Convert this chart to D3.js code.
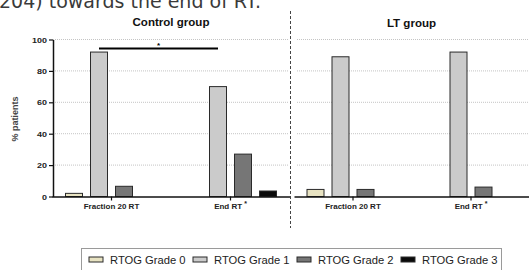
<!DOCTYPE html>
<html>
<head>
<meta charset="utf-8">
<script src="https://cdn.jsdelivr.net/npm/d3@7"></script>
<style>
  body { margin: 0; background: #fff; }
  svg { display: block; }
</style>
</head>
<body>
<div id="chart"></div>
<script>
const categories = ["Fraction 20 RT", "End RT"];
const grades = ["RTOG Grade 0", "RTOG Grade 1", "RTOG Grade 2", "RTOG Grade 3"];
const gradeColors = ["#e8e3c2", "#cbcbcb", "#767676", "#0a0a0a"];
const controlValues = [[2, 92, 6.5, 0], [0, 70, 27, 3.5]];
const ltValues = [[4.5, 89, 4.5, 0], [0, 92, 6, 0]];
const yTicks = [0, 20, 40, 60, 80, 100];
const gridTicks = [20, 40, 60, 80, 100];

function drawChart() {
    const W = 529, H = 270;
    const svg = d3.select("#chart").append("svg")
        .attr("width", W).attr("height", H)
        .style("font-family", "'Liberation Sans', Arial, sans-serif");

    // widen text a bit, the source picture is stretched sideways
    function stretch(sel, k) {
        sel.each(function() {
            const len = this.getComputedTextLength();
            d3.select(this).attr("textLength", len * k).attr("lengthAdjust", "spacingAndGlyphs");
        });
    }

    // cut-off line of body text above the figure
    svg.append("text")
        .attr("x", -1).attr("y", 7.5)
        .style("font-family", "'DejaVu Sans', sans-serif")
        .style("font-size", "19px")
        .attr("fill", "#3a3a3a")
        .text("204) towards the end of RT.");

    const y = d3.scaleLinear().domain([0, 100]).range([196.5, 39.5]);

    const panels = [
        {title: "Control group", values: controlValues, range: [52, 290], grid: [53, 288], axis: true, sig: true},
        {title: "LT group", values: ltValues, range: [294, 530], grid: [297, 529], axis: false, sig: false}
    ];

    const inner = d3.scaleBand().domain(grades).range([-46, 46]).paddingInner(0.32).paddingOuter(0);

    panels.forEach(p => {
        const x = d3.scaleBand().domain(categories).range(p.range);
        const g = svg.append("g");

        // dotted grid
        g.selectAll("line.grid").data(gridTicks).join("line")
            .attr("class", "grid")
            .attr("x1", p.grid[0]).attr("x2", p.grid[1])
            .attr("y1", d => y(d)).attr("y2", d => y(d))
            .attr("stroke", "#b5b5b5").attr("stroke-width", 0.8)
            .attr("stroke-dasharray", "1,1");

        // bars
        categories.forEach((c, ci) => {
            g.selectAll(null).data(grades.map((gr, gi) => ({gr, gi, v: p.values[ci][gi]})).filter(d => d.v > 0))
                .join("rect")
                .attr("x", d => x(c) + x.bandwidth() / 2 + inner(d.gr))
                .attr("y", d => y(d.v))
                .attr("width", inner.bandwidth())
                .attr("height", d => y(0) - y(d.v))
                .attr("fill", d => gradeColors[d.gi])
                .attr("stroke", "#2a2a2a").attr("stroke-width", 1);
        });

        // x axis
        const xAxis = g.append("g")
            .attr("transform", `translate(0,${y(0)})`)
            .call(d3.axisBottom(x).tickSize(4).tickSizeOuter(0).tickFormat(""));
        xAxis.select(".domain").attr("stroke", "#111").attr("stroke-width", 1.5);
        xAxis.selectAll(".tick line").attr("stroke", "#111").attr("stroke-width", 1.2);

        const labels = g.selectAll("text.xlab").data(categories).join("text")
            .attr("class", "xlab")
            .attr("x", d => x(d) + x.bandwidth() / 2)
            .attr("y", 208.5)
            .attr("text-anchor", "middle")
            .style("font-size", "8px").style("font-weight", "bold")
            .attr("fill", "#222");
        labels.append("tspan").text(d => d);
        labels.filter(d => d === "End RT").append("tspan")
            .attr("dx", 2).attr("dy", -3).style("font-size", "7px").text("*");

        if (p.axis) {
            const yAxis = g.append("g")
                .attr("transform", `translate(${p.range[0] + 1},0)`)
                .call(d3.axisLeft(y).tickValues(yTicks).tickSize(4).tickSizeOuter(0).tickPadding(2));
            yAxis.select(".domain").attr("stroke", "#111").attr("stroke-width", 1.5);
            yAxis.selectAll(".tick line").attr("stroke", "#111").attr("stroke-width", 1.2);
            yAxis.selectAll(".tick text")
                .style("font-size", "8px").style("font-weight", "bold")
                .style("font-family", "'Liberation Sans', Arial, sans-serif")
                .attr("fill", "#222")
                .call(stretch, 1.12);

            svg.append("text")
                .attr("transform", `translate(18,${(y(0) + y(100)) / 2 + 1}) rotate(-90)`)
                .attr("text-anchor", "middle")
                .style("font-size", "9px").style("font-weight", "bold")
                .attr("fill", "#444")
                .text("% patients");
        }

        // significance bar between grade 1 bars
        if (p.sig) {
            const cx = c => x(c) + x.bandwidth() / 2 + inner(grades[1]) + inner.bandwidth() / 2;
            g.append("line")
                .attr("x1", cx(categories[0])).attr("x2", cx(categories[1]))
                .attr("y1", 48.5).attr("y2", 48.5)
                .attr("stroke", "#000").attr("stroke-width", 2);
            g.append("text")
                .attr("x", (cx(categories[0]) + cx(categories[1])) / 2)
                .attr("y", 47.5)
                .attr("text-anchor", "middle")
                .style("font-size", "8px").style("font-weight", "bold")
                .text("*");
        }

        g.append("text")
            .attr("x", (p.range[0] + p.range[1]) / 2 + (p.axis ? 0 : -0.5))
            .attr("y", p.axis ? 26 : 27)
            .attr("text-anchor", "middle")
            .style("font-size", "10.5px").style("font-weight", "bold")
            .attr("fill", "#111")
            .text(p.title)
            .call(stretch, 1.1);
    });

    // dashed divider between the panels
    svg.append("line")
        .attr("x1", 290.5).attr("x2", 290.5)
        .attr("y1", 11).attr("y2", 228)
        .attr("stroke", "#444").attr("stroke-width", 1)
        .attr("stroke-dasharray", "3,2");

    // legend
    const lg = svg.append("g");
    lg.append("rect")
        .attr("x", 81.5).attr("y", 248.5)
        .attr("width", 420).attr("height", 40)
        .attr("fill", "none").attr("stroke", "#9a9a9a");
    const items = lg.selectAll("g.item").data(grades).join("g")
        .attr("class", "item")
        .attr("transform", (d, i) => `translate(${89 + i * 104},0)`);
    items.append("rect")
        .attr("x", 0).attr("y", 257)
        .attr("width", 14).attr("height", 5)
        .attr("fill", (d, i) => gradeColors[i])
        .attr("stroke", "#2a2a2a").attr("stroke-width", 1);
    items.append("text")
        .attr("x", 21).attr("y", 263.5)
        .style("font-size", "10px")
        .attr("fill", "#222")
        .text(d => d)
        .call(stretch, 1.12);

    svg.node();
}

drawChart();
</script>
</body>
</html>
